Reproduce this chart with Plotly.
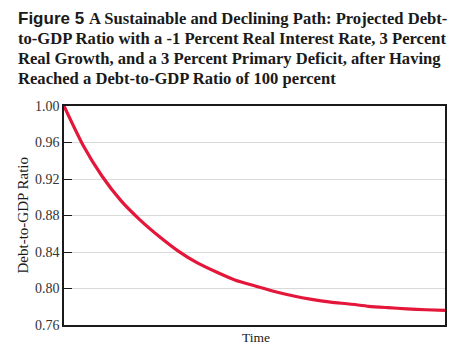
import plotly.graph_objects as go

time_vals = [0, 3, 6, 9, 12, 15, 18, 21, 24, 27, 30, 33, 36, 39, 42, 45, 48, 51, 54, 57, 60]
debt_ratio = [1.000, 0.957, 0.923, 0.896, 0.875, 0.857, 0.841, 0.828, 0.818, 0.809, 0.803,
              0.797, 0.792, 0.788, 0.785, 0.783, 0.7805, 0.779, 0.7777, 0.7767, 0.776]
y_ticks = [0.76, 0.80, 0.84, 0.88, 0.92, 0.96, 1.00]
title_lines = [
    "A Sustainable and Declining Path: Projected Debt-",
    "to-GDP Ratio with a -1 Percent Real Interest Rate, 3 Percent",
    "Real Growth, and a 3 Percent Primary Deficit, after Having",
    "Reached a Debt-to-GDP Ratio of 100 percent",
]

SERIF = "Liberation Serif, Times New Roman, serif"
SANS = "Liberation Sans, Arial, sans-serif"

fig = go.Figure()
fig.add_trace(go.Scatter(x=time_vals, y=debt_ratio, mode="lines",
                         line=dict(color="#e4163a", width=3.2, shape="spline", smoothing=0.6),
                         hoverinfo="skip"))

fig.update_layout(
    width=460, height=344,
    margin=dict(l=64, r=15, t=106, b=19),
    paper_bgcolor="white", plot_bgcolor="white",
    showlegend=False,
    xaxis=dict(range=[0, 60], showticklabels=False, ticks="", showgrid=False,
               zeroline=False, showline=True, linecolor="#1a1a1a", linewidth=1.5, mirror=True),
    yaxis=dict(range=[0.76, 1.00], tickvals=y_ticks, ticktext=[f"{v:.2f}" for v in y_ticks],
               ticks="inside", ticklen=8, tickwidth=1.2, tickcolor="#1a1a1a",
               tickfont=dict(family=SERIF, size=14, color="#333333"),
               showgrid=True, gridcolor="#d9d9d9", gridwidth=1, zeroline=False,
               showline=True, linecolor="#1a1a1a", linewidth=1.5, mirror=True),
)

ann = []
ann.append(dict(text="<b>Figure 5</b>", x=16, y=19, xanchor="left", yanchor="middle",
                showarrow=False, font=dict(family=SANS, size=17, color="#1a1a1a")))
line_y = [19, 39, 59, 79]
for i, t in enumerate(title_lines):
    ann.append(dict(text=f"<b>{t}</b>", x=(87 if i == 0 else 16), y=line_y[i],
                    xanchor="left", yanchor="middle", showarrow=False,
                    font=dict(family=SERIF, size=16.6, color="#1a1a1a")))
# convert pixel positions to paper coords
W, H, L, R, T, B = 460, 344, 64, 15, 106, 19
pw, ph = W - L - R, H - T - B
for a in ann:
    a["x"] = (a["x"] - L) / pw
    a["y"] = (H - B - a["y"]) / ph
    a["xref"] = "paper"; a["yref"] = "paper"
ann.append(dict(text="Time", x=(256 - L) / pw, y=(H - B - 337) / ph, xref="paper", yref="paper",
                xanchor="center", yanchor="middle", showarrow=False,
                font=dict(family=SERIF, size=13.5, color="#1a1a1a")))
ann.append(dict(text="Debt-to-GDP Ratio", x=(22 - L) / pw, y=0.5, xref="paper", yref="paper",
                xanchor="center", yanchor="middle", textangle=-90, showarrow=False,
                font=dict(family=SERIF, size=15, color="#1a1a1a")))
fig.update_layout(annotations=ann)

fig.write_html("out.html")
